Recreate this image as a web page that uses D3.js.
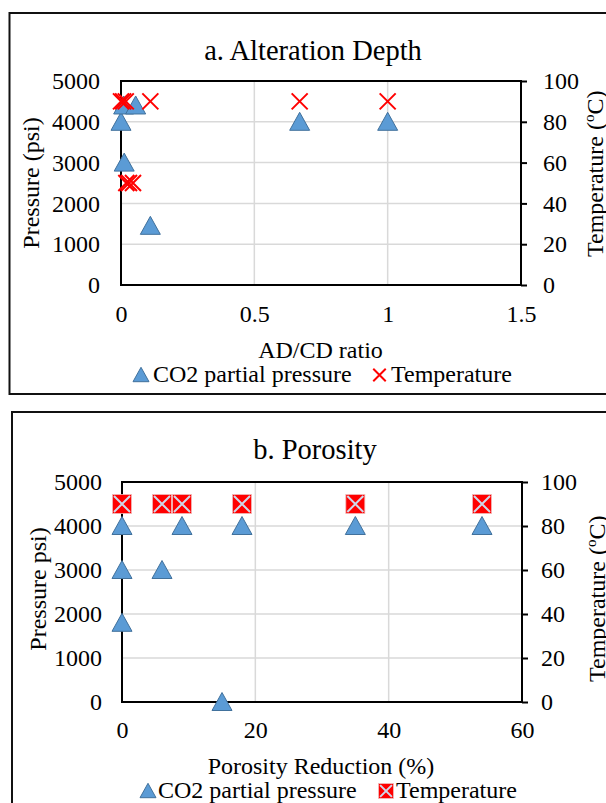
<!DOCTYPE html>
<html>
<head>
<meta charset="utf-8">
<script src="https://cdn.jsdelivr.net/npm/d3@7/dist/d3.min.js"></script>
<style>
  html, body { margin: 0; padding: 0; background: #fff; }
  svg { display: block; }
  text { font-family: "Liberation Serif", "Times New Roman", serif; fill: #000; }
</style>
</head>
<body>
<svg id="chart" width="606" height="803"></svg>
<script>
// ---- Panel a: alteration depth vs AD/CD ratio ----
const adRatioCO2   = [0, 0.01, 0.055, 0.012, 0.11, 0.67, 1.0];
const pressureA    = [4000, 4400, 4400, 3000, 1450, 4000, 4000];
const adRatioTemp  = [0, 0.008, 0.018, 0.11, 0.67, 1.0, 0.02, 0.03, 0.045];
const temperatureA = [90, 90, 90, 90, 90, 90, 50, 50, 50];
const adRatioTicks = [0, 0.5, 1, 1.5];

// ---- Panel b: porosity reduction ----
const porosityCO2  = [0, 0, 0, 6, 9, 15, 18, 35, 54];
const pressureB    = [4000, 3000, 1800, 3000, 4000, 0, 4000, 4000, 4000];
const porosityTemp = [0, 6, 9, 18, 35, 54];
const temperatureB = [90, 90, 90, 90, 90, 90];
const porosityTicks = [0, 20, 40, 60];

// ---- shared axes ----
const pressureTicks    = [0, 1000, 2000, 3000, 4000, 5000];
const temperatureTicks = [0, 20, 40, 60, 80, 100];
const seriesNames = ["CO2 partial pressure", "Temperature"];

const svg = d3.select("#chart");
const FONT = 24;

// marker painters; k scales the marker (legend swatches are drawn smaller)
function drawTriangle(g, x, y, k = 1) {
  g.append("path").attr("d", "M0,-9 L10,9 L-10,9 Z")
    .attr("transform", `translate(${x},${y - 0.5}) scale(${k})`)
    .attr("fill", "#5B9BD5").attr("stroke", "#41719C").attr("stroke-width", 1 / k);
}
function drawCross(g, x, y, k = 1) {
  const s = 8 * k;
  g.append("path")
    .attr("d", `M${x - s},${y - s}L${x + s},${y + s}M${x - s},${y + s}L${x + s},${y - s}`)
    .attr("stroke", "#FF0000").attr("stroke-width", 2).attr("fill", "none");
}
function drawBoxCross(g, x, y, k = 1) {
  const s = 9.5 * k;
  g.append("rect").attr("x", x - s).attr("y", y - s).attr("width", 2 * s).attr("height", 2 * s)
    .attr("fill", "#FF0000").attr("stroke", "#f2b8b8").attr("stroke-width", 0.8);
  const c = s - 1.5;
  g.append("path")
    .attr("d", `M${x - c},${y - c}L${x + c},${y + c}M${x - c},${y + c}L${x + c},${y - c}`)
    .attr("stroke", "#cfd8ea").attr("stroke-width", 2).attr("fill", "none");
}

function drawPanel(cfg) {
  const g = svg.append("g");

  // outer panel frame
  g.append("rect").attr("x", cfg.frame[0]).attr("y", cfg.frame[1])
    .attr("width", cfg.frame[2]).attr("height", cfg.frame[3])
    .attr("fill", "none").attr("stroke", "#111").attr("stroke-width", 2);

  const x = d3.scaleLinear().domain(cfg.xDomain).range([cfg.left, cfg.right]);
  const yP = d3.scaleLinear().domain([0, 5000]).range([cfg.bottom, cfg.top]);
  const yT = d3.scaleLinear().domain([0, 100]).range([cfg.bottom, cfg.top]);

  // gridlines
  g.append("g").selectAll("line").data(pressureTicks).join("line")
    .attr("x1", cfg.left).attr("x2", cfg.right)
    .attr("y1", d => yP(d)).attr("y2", d => yP(d))
    .attr("stroke", "#d9d9d9").attr("stroke-width", 1.5);
  g.append("g").selectAll("line").data(cfg.xTicks).join("line")
    .attr("x1", d => x(d)).attr("x2", d => x(d))
    .attr("y1", cfg.top).attr("y2", cfg.bottom)
    .attr("stroke", "#d9d9d9").attr("stroke-width", 1.5);

  // axes
  const left = g.append("g").attr("transform", `translate(${cfg.left},0)`)
    .call(d3.axisLeft(yP).tickValues(pressureTicks).tickSize(0).tickPadding(cfg.leftPad).tickFormat(d => String(d)));
  const right = g.append("g").attr("transform", `translate(${cfg.right},0)`)
    .call(d3.axisRight(yT).tickValues(temperatureTicks).tickSize(6).tickPadding(cfg.rightPad).tickFormat(d => String(d)));
  const bottom = g.append("g").attr("transform", `translate(0,${cfg.bottom})`)
    .call(d3.axisBottom(x).tickValues(cfg.xTicks).tickSize(0).tickPadding(cfg.bottomPad).tickFormat(d => String(d)));
  [left, right, bottom].forEach(a => {
    a.attr("font-family", null).attr("font-size", null);
    a.selectAll("text").style("font-size", FONT + "px");
    a.select(".domain").remove();
    a.selectAll(".tick line").attr("stroke", "#000").attr("stroke-width", 2);
  });

  // plot frame
  g.append("rect").attr("x", cfg.left).attr("y", cfg.top)
    .attr("width", cfg.right - cfg.left).attr("height", cfg.bottom - cfg.top)
    .attr("fill", "none").attr("stroke", "#000").attr("stroke-width", 2);

  // series
  const marks = g.append("g");
  cfg.co2X.forEach((v, i) => drawTriangle(marks, x(v), yP(cfg.co2Y[i])));
  cfg.tempX.forEach((v, i) => cfg.tempMarker(marks, x(v), yT(cfg.tempY[i])));

  // titles and labels
  g.append("text").attr("x", cfg.titlePos[0]).attr("y", cfg.titlePos[1])
    .attr("text-anchor", "middle").style("font-size", "28.5px").text(cfg.title);
  g.append("text").attr("x", cfg.xLabelPos[0]).attr("y", cfg.xLabelPos[1])
    .attr("text-anchor", "middle").style("font-size", FONT + "px").text(cfg.xLabel);
  g.append("text")
    .attr("transform", `translate(${cfg.yLabelPos[0]},${cfg.yLabelPos[1]}) rotate(-90)`)
    .attr("text-anchor", "middle").style("font-size", FONT + "px").text(cfg.yLabel);
  const rl = g.append("text")
    .attr("transform", `translate(${cfg.rLabelPos[0]},${cfg.rLabelPos[1]}) rotate(-90)`)
    .attr("text-anchor", "start").style("font-size", FONT + "px");
  rl.append("tspan").text("Temperature (");
  rl.append("tspan").attr("dy", -9).style("font-size", "15px").text("o");
  rl.append("tspan").attr("dy", 9).text("C)");

  // legend
  const ly = cfg.legendY;
  drawTriangle(g, cfg.legend[0], ly - 7, 0.8);
  g.append("text").attr("x", cfg.legend[1]).attr("y", ly).style("font-size", FONT + "px").text(seriesNames[0]);
  cfg.tempMarker(g, cfg.legend[2], ly - 7, 0.78);
  g.append("text").attr("x", cfg.legend[3]).attr("y", ly).style("font-size", FONT + "px").text(seriesNames[1]);
}

drawPanel({
  frame: [9.5, 13, 610, 381],
  left: 121, right: 521, top: 81, bottom: 285,
  xDomain: [0, 1.5], xTicks: adRatioTicks,
  leftPad: 21, rightPad: 16, bottomPad: 20,
  co2X: adRatioCO2, co2Y: pressureA,
  tempX: adRatioTemp, tempY: temperatureA, tempMarker: drawCross,
  title: "a. Alteration Depth", titlePos: [313, 60],
  xLabel: "AD/CD ratio", xLabelPos: [320.5, 358],
  yLabel: "Pressure (psi)", yLabelPos: [39, 183],
  rLabelPos: [603, 257],
  legendY: 382, legend: [141, 153, 379.5, 391]
});

drawPanel({
  frame: [12, 412, 610, 420],
  left: 122, right: 522, top: 482, bottom: 702,
  xDomain: [0, 60], xTicks: porosityTicks,
  leftPad: 20, rightPad: 13, bottomPad: 19,
  co2X: porosityCO2, co2Y: pressureB,
  tempX: porosityTemp, tempY: temperatureB, tempMarker: drawBoxCross,
  title: "b. Porosity", titlePos: [315, 459],
  xLabel: "Porosity Reduction (%)", xLabelPos: [321, 774],
  yLabel: "Pressure psi)", yLabelPos: [46, 589],
  rLabelPos: [605, 682],
  legendY: 798, legend: [148, 158, 386, 396]
});
</script>
</body>
</html>
